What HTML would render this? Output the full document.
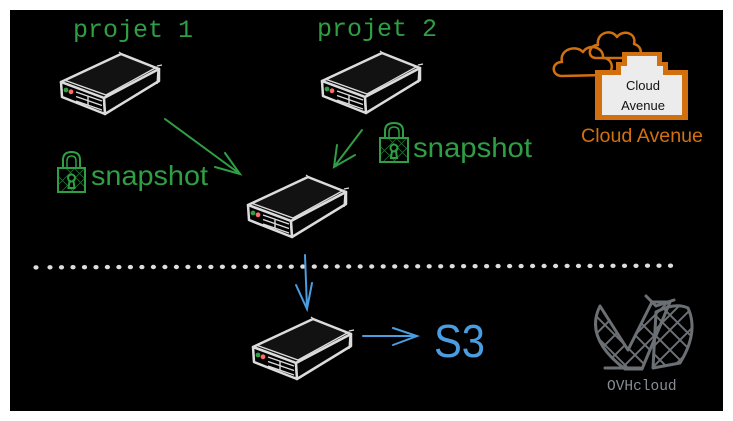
<!DOCTYPE html>
<html><head><meta charset="utf-8"><style>
html,body{margin:0;padding:0;background:#fff;}
svg{display:block;}
</style></head><body>
<svg width="733" height="421" viewBox="0 0 733 421" xmlns="http://www.w3.org/2000/svg">
<defs>
  <g id="srv">
    <path d="M0,0 L60,-28 L98,-13 L43,16 Z" fill="#121212" stroke="#dcdcdc" stroke-width="2.5" stroke-linejoin="round"/>
    <path d="M0,0 L43,16 L44,32 L1,15 Z" fill="#000" stroke="#dcdcdc" stroke-width="2.5" stroke-linejoin="round"/>
    <path d="M43,16 L98,-13 L98,-1 L44,32 Z" fill="#050505" stroke="#dcdcdc" stroke-width="2.5" stroke-linejoin="round"/>
    <path d="M3,-2 L45,13 L96,-15" fill="none" stroke="#dcdcdc" stroke-width="1.3"/>
    <path d="M58,-30 L62,-27 M96,-16 L101,-17 M97,-13 L96,2" fill="none" stroke="#dcdcdc" stroke-width="1.3"/>
    <circle cx="5" cy="8" r="2.4" fill="#2f9e44"/>
    <circle cx="10" cy="9.8" r="2.4" fill="#ff6b6b"/>
    <path d="M15,10 L41,19 M15,14.5 L41,23.5 M15,19 L41,28 M27,14 L27,23" fill="none" stroke="#dcdcdc" stroke-width="1.4"/>
  </g>
  <clipPath id="ovhL"><path d="M600,306 Q584,338 625,369 L642,369 L670,302 L652,302 L628,350 Z"/></clipPath>
  <clipPath id="ovhR"><path d="M656,312 Q675,302 688,308 Q699,332 680,363 L653,368 Z"/></clipPath>
  <clipPath id="lockL"><rect x="58" y="168" width="27" height="24"/></clipPath>
  <clipPath id="lockR"><rect x="380" y="138" width="28" height="24"/></clipPath>
</defs>

<rect x="10" y="10" width="713" height="401" fill="#000"/>

<!-- titles -->
<text x="73" y="37" font-family="Liberation Mono, monospace" font-size="25" fill="#2f9e44">projet 1</text>
<text x="317" y="36" font-family="Liberation Mono, monospace" font-size="25" fill="#2f9e44">projet 2</text>

<!-- servers -->
<use href="#srv" transform="translate(61,82)"/>
<use href="#srv" transform="translate(322,81)"/>
<use href="#srv" transform="translate(248,205)"/>
<use href="#srv" transform="translate(253,347)"/>

<!-- green arrows -->
<g stroke="#2f9e44" stroke-width="2" fill="none" stroke-linecap="round">
  <path d="M165,119 L240,174 M225,153 L240,174 L215,167"/>
  <path d="M362,130 L334,167 M337,145 L334,167 L355,155"/>
</g>

<!-- locks -->
<g stroke="#2f9e44" stroke-width="2" fill="none">
  <path d="M63,168 L63,160 Q63,152 71.5,152 Q80,152 80,160 L80,168"/>
  <path d="M67,168 L67,161 Q67,156 71.5,156 Q76,156 76,161 L76,168" stroke-width="1.5"/>
  <rect x="58" y="168" width="27" height="24"/>
  <g clip-path="url(#lockL)" stroke-width="0.8" opacity="0.7">
    <path d="M50,168 L80,198 M58,160 L88,190 M66,160 L96,190 M50,185 L70,205 M85,168 L55,198 M95,168 L65,198 M75,168 L45,198"/>
  </g>
  <circle cx="71.5" cy="178" r="3.5"/>
  <path d="M69.5,181 L68.5,188 L74.5,188 L73.5,181"/>
</g>
<g stroke="#2f9e44" stroke-width="2" fill="none">
  <path d="M385,138 L385,131 Q385,123 394,123 Q403,123 403,131 L403,138"/>
  <path d="M389,138 L389,132 Q389,127 394,127 Q399,127 399,132 L399,138" stroke-width="1.5"/>
  <rect x="380" y="138" width="28" height="24"/>
  <g clip-path="url(#lockR)" stroke-width="0.8" opacity="0.7">
    <path d="M372,138 L402,168 M380,130 L410,160 M388,130 L418,160 M372,155 L392,175 M407,138 L377,168 M417,138 L387,168 M397,138 L367,168"/>
  </g>
  <circle cx="394" cy="148" r="3.5"/>
  <path d="M392,151 L391,158 L397,158 L396,151"/>
</g>
<text x="91" y="185" font-family="Liberation Sans, sans-serif" font-size="28" fill="#2f9e44" textLength="117" lengthAdjust="spacingAndGlyphs">snapshot</text>
<text x="413" y="157" font-family="Liberation Sans, sans-serif" font-size="28" fill="#2f9e44" textLength="119" lengthAdjust="spacingAndGlyphs">snapshot</text>

<!-- dotted line -->
<g fill="#dddddd">
  <ellipse cx="36" cy="267.4" rx="2.6" ry="2.2"/>
  <g id="dots"></g>
</g>
<g fill="#dddddd">
<ellipse cx="50.0" cy="267.3" rx="2.6" ry="2.2"/><ellipse cx="61.5" cy="267.3" rx="2.6" ry="2.2"/><ellipse cx="73.0" cy="267.2" rx="2.6" ry="2.2"/><ellipse cx="84.5" cy="267.2" rx="2.6" ry="2.2"/><ellipse cx="96.0" cy="267.2" rx="2.6" ry="2.2"/><ellipse cx="107.4" cy="267.1" rx="2.6" ry="2.2"/><ellipse cx="118.9" cy="267.1" rx="2.6" ry="2.2"/><ellipse cx="130.4" cy="267.1" rx="2.6" ry="2.2"/><ellipse cx="141.9" cy="267.1" rx="2.6" ry="2.2"/><ellipse cx="153.4" cy="267.0" rx="2.6" ry="2.2"/><ellipse cx="164.9" cy="267.0" rx="2.6" ry="2.2"/><ellipse cx="176.4" cy="267.0" rx="2.6" ry="2.2"/><ellipse cx="187.9" cy="266.9" rx="2.6" ry="2.2"/><ellipse cx="199.4" cy="266.9" rx="2.6" ry="2.2"/><ellipse cx="210.9" cy="266.9" rx="2.6" ry="2.2"/><ellipse cx="222.4" cy="266.8" rx="2.6" ry="2.2"/><ellipse cx="233.8" cy="266.8" rx="2.6" ry="2.2"/><ellipse cx="245.3" cy="266.8" rx="2.6" ry="2.2"/><ellipse cx="256.8" cy="266.8" rx="2.6" ry="2.2"/><ellipse cx="268.3" cy="266.7" rx="2.6" ry="2.2"/><ellipse cx="279.8" cy="266.7" rx="2.6" ry="2.2"/><ellipse cx="291.3" cy="266.7" rx="2.6" ry="2.2"/><ellipse cx="302.8" cy="266.6" rx="2.6" ry="2.2"/><ellipse cx="314.3" cy="266.6" rx="2.6" ry="2.2"/><ellipse cx="325.8" cy="266.6" rx="2.6" ry="2.2"/><ellipse cx="337.3" cy="266.5" rx="2.6" ry="2.2"/><ellipse cx="348.7" cy="266.5" rx="2.6" ry="2.2"/><ellipse cx="360.2" cy="266.5" rx="2.6" ry="2.2"/><ellipse cx="371.7" cy="266.5" rx="2.6" ry="2.2"/><ellipse cx="383.2" cy="266.4" rx="2.6" ry="2.2"/><ellipse cx="394.7" cy="266.4" rx="2.6" ry="2.2"/><ellipse cx="406.2" cy="266.4" rx="2.6" ry="2.2"/><ellipse cx="417.7" cy="266.3" rx="2.6" ry="2.2"/><ellipse cx="429.2" cy="266.3" rx="2.6" ry="2.2"/><ellipse cx="440.7" cy="266.3" rx="2.6" ry="2.2"/><ellipse cx="452.2" cy="266.2" rx="2.6" ry="2.2"/><ellipse cx="463.6" cy="266.2" rx="2.6" ry="2.2"/><ellipse cx="475.1" cy="266.2" rx="2.6" ry="2.2"/><ellipse cx="486.6" cy="266.2" rx="2.6" ry="2.2"/><ellipse cx="498.1" cy="266.1" rx="2.6" ry="2.2"/><ellipse cx="509.6" cy="266.1" rx="2.6" ry="2.2"/><ellipse cx="521.1" cy="266.1" rx="2.6" ry="2.2"/><ellipse cx="532.6" cy="266.0" rx="2.6" ry="2.2"/><ellipse cx="544.1" cy="266.0" rx="2.6" ry="2.2"/><ellipse cx="555.6" cy="266.0" rx="2.6" ry="2.2"/><ellipse cx="567.1" cy="265.9" rx="2.6" ry="2.2"/><ellipse cx="578.5" cy="265.9" rx="2.6" ry="2.2"/><ellipse cx="590.0" cy="265.9" rx="2.6" ry="2.2"/><ellipse cx="601.5" cy="265.9" rx="2.6" ry="2.2"/><ellipse cx="613.0" cy="265.8" rx="2.6" ry="2.2"/><ellipse cx="624.5" cy="265.8" rx="2.6" ry="2.2"/><ellipse cx="636.0" cy="265.8" rx="2.6" ry="2.2"/><ellipse cx="647.5" cy="265.7" rx="2.6" ry="2.2"/><ellipse cx="659.0" cy="265.7" rx="2.6" ry="2.2"/><ellipse cx="670.5" cy="265.7" rx="2.6" ry="2.2"/>
</g>

<!-- blue arrows -->
<g stroke="#4a9de0" stroke-width="2" fill="none" stroke-linecap="round">
  <path d="M305,255 L307,309 M296,285 L307,309 L312,283"/>
  <path d="M363,336 L417,336 M393,328 L417,336 L393,345"/>
</g>
<text x="434" y="357" font-family="Liberation Sans, sans-serif" font-size="46" fill="#4a9de0" textLength="51" lengthAdjust="spacingAndGlyphs">S3</text>

<!-- Cloud Avenue -->
<g stroke="#d2700f" stroke-width="2.5" fill="none" stroke-linejoin="round">
  <path d="M596,58 C587,58 588,45 598,45 C596,33 611,28 617,37 C623,29 637,33 634,44 C643,46 643,58 634,58"/>
  <path d="M596,58 L634,58"/>
  <path d="M562,76 C551,76 551,62 562,62 C559,50 575,44 583,52 C589,43 604,47 603,58 C614,58 615,74 604,75 Z"/>
</g>
<path d="M622,52 L662,52 L662,62 L668,62 L668,70 L688,70 L688,120 L595,120 L595,70 L616,70 L616,62 L622,62 Z" fill="#d2700f"/>
<path d="M627,56 L657,56 L657,66 L663,66 L663,75 L682,75 L682,115 L602,115 L602,75 L621,75 L621,66 L627,66 Z" fill="#ececec"/>
<text x="643" y="90" text-anchor="middle" font-family="Liberation Sans, sans-serif" font-size="13" fill="#111">Cloud</text>
<text x="643" y="110" text-anchor="middle" font-family="Liberation Sans, sans-serif" font-size="13" fill="#111">Avenue</text>
<text x="581" y="142" font-family="Liberation Sans, sans-serif" font-size="19" fill="#d2700f" textLength="122" lengthAdjust="spacingAndGlyphs">Cloud Avenue</text>

<!-- OVHcloud -->
<g stroke="#6b7075" fill="none" stroke-linejoin="round" stroke-linecap="round">
  <g clip-path="url(#ovhL)" stroke-width="2">
    <path d="M580,300 L660,380 M580,320 L650,390 M590,290 L670,370 M600,282 L680,362 M660,290 L580,370 M670,300 L590,380 M680,310 L600,390 M650,280 L570,360"/>
  </g>
  <g clip-path="url(#ovhR)" stroke-width="2">
    <path d="M640,300 L700,360 M640,320 L700,380 M650,295 L710,355 M640,340 L690,390 M700,300 L640,360 M700,320 L640,380 M690,295 L630,355 M705,335 L655,385"/>
  </g>
  <path d="M600,306 Q584,338 625,369 L642,369 L670,302 L652,302 L628,350 Z" stroke-width="3"/>
  <path d="M656,312 Q675,302 688,308 Q699,332 680,363 L653,368 Z" stroke-width="3"/>
  <path d="M646,296 L656,306 L674,300" stroke-width="3"/>
  <path d="M605,368 L640,368" stroke-width="3"/>
</g>
<text x="607" y="390" font-family="Liberation Mono, monospace" font-size="14.5" fill="#868e96">OVHcloud</text>
</svg>
</body></html>
